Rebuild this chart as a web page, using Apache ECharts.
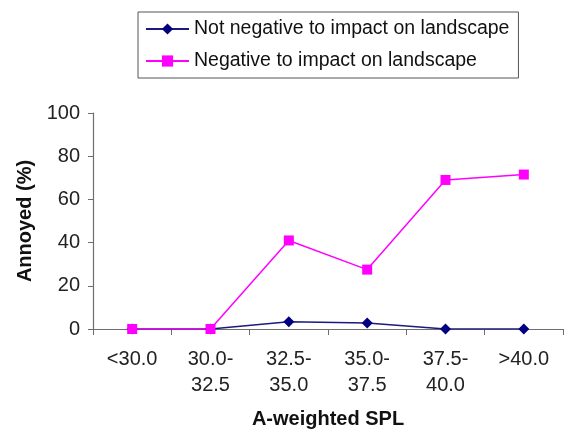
<!DOCTYPE html>
<html>
<head>
<meta charset="utf-8">
<script src="https://cdn.jsdelivr.net/npm/echarts@6/dist/echarts.min.js"></script>
<style>html,body{margin:0;padding:0;background:#fff;}#c{width:567px;height:432px;}</style>
</head>
<body>
<div id="c"></div>
<script>
const categories = ['<30.0', '30.0-\n32.5', '32.5-\n35.0', '35.0-\n37.5', '37.5-\n40.0', '>40.0'];
const notNegative = [0, 0, 3.4, 2.8, 0, 0];
const negative = [0, 0, 41, 27.5, 69, 71.5];
const yTicks = {min: 0, max: 100, interval: 20};
const seriesNames = ['Not negative to impact on landscape', 'Negative to impact on landscape'];
const axisNames = {x: 'A-weighted SPL', y: 'Annoyed (%)'};

const font = 'Liberation Sans, Arial, sans-serif';
const chart = echarts.init(document.getElementById('c'), null, {renderer: 'canvas'});
chart.setOption({
  animation: false,
  backgroundColor: '#ffffff',
  grid: {left: 93, right: 4, top: 113, bottom: 103, containLabel: false},
  legend: {
    orient: 'vertical',
    left: 138, top: 12,
    padding: [7, 9, 7, 7],
    itemWidth: 43, itemHeight: 14, itemGap: 12,
    borderColor: '#555', borderWidth: 1,
    textStyle: {fontFamily: font, fontSize: 19.5, color: '#111'},
    data: seriesNames
  },
  xAxis: {
    type: 'category',
    data: categories,
    boundaryGap: true,
    name: axisNames.x,
    nameLocation: 'middle',
    nameGap: 80,
    nameTextStyle: {fontFamily: font, fontSize: 20, fontWeight: 'bold', color: '#111'},
    axisLine: {lineStyle: {color: '#6e6e6e', width: 1.2}},
    axisTick: {show: true, length: 6, alignWithLabel: false, lineStyle: {color: '#6e6e6e'}},
    axisLabel: {fontFamily: font, fontSize: 20, color: '#222', margin: 17, lineHeight: 26, interval: 0}
  },
  yAxis: {
    type: 'value',
    min: yTicks.min, max: yTicks.max, interval: yTicks.interval,
    name: axisNames.y,
    nameLocation: 'middle',
    nameGap: 58,
    nameRotate: 90,
    nameTextStyle: {fontFamily: font, fontSize: 20, fontWeight: 'bold', color: '#111'},
    splitLine: {show: false},
    axisLine: {show: true, lineStyle: {color: '#6e6e6e', width: 1.2}},
    axisTick: {show: true, length: 5, lineStyle: {color: '#6e6e6e'}},
    axisLabel: {fontFamily: font, fontSize: 20, color: '#222', margin: 13}
  },
  series: [
    {
      name: seriesNames[0], type: 'line', data: notNegative,
      symbol: 'diamond', symbolSize: 11, showAllSymbol: true,
      lineStyle: {color: '#1a1a80', width: 1.5},
      itemStyle: {color: '#000080'}
    },
    {
      name: seriesNames[1], type: 'line', data: negative,
      symbol: 'rect', symbolSize: 10, showAllSymbol: true,
      lineStyle: {color: '#ff00ff', width: 1.5},
      itemStyle: {color: '#ff00ff'}
    }
  ]
});
</script>
</body>
</html>
